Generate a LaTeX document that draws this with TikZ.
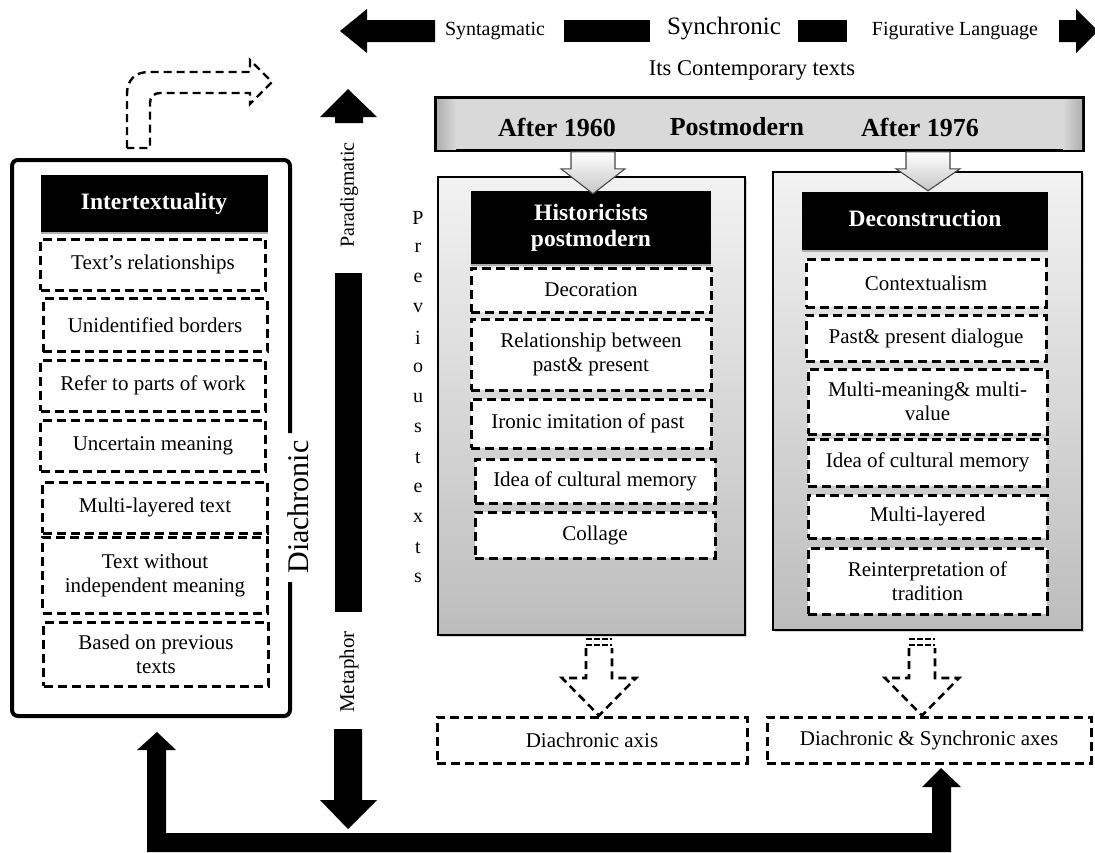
\documentclass[tikz,border=0pt]{standalone}
\usepackage{fontspec}
\setmainfont{Liberation Serif}
\usetikzlibrary{shadows,calc}
\newcommand{\bodyf}{\fontsize{21}{24}\selectfont}
\newcommand{\headf}{\fontsize{23.5}{26}\selectfont\bfseries}
\newcommand{\barf}{\fontsize{26}{30}\selectfont\bfseries}
\newcommand{\blockdown}[5]{(#1) ++(-#4,0) -- ++({2*#4},0) -- ++(0,#2) -- ++({#5-#4},0) -- ++({-#5},#3) -- ++({-#5},{-#3}) -- ++({#5-#4},0) -- cycle}
\tikzset{
  dbox/.style={draw=black, line width=3pt, dash pattern=on 9pt off 5pt, fill=white, align=center, inner sep=0pt, font=\bodyf, text=black},
  hbox/.style={fill=black, text=white, align=center, inner sep=0pt, font=\headf, drop shadow={shadow xshift=0pt, shadow yshift=-2pt, fill=gray!70, opacity=0.9}},
  panel/.style={draw=black, line width=1.4pt, top color=gray!10, bottom color=gray!52, inner sep=0pt, drop shadow={shadow xshift=2pt, shadow yshift=-2pt, opacity=0.35}},
  axislabel/.style={inner sep=0pt, text=black},
  grayarrow/.style={draw=gray!55!black, line width=1.1pt, top color=white, bottom color=gray!45},
  darrow/.style={draw=black, line width=2.6pt, dash pattern=on 8pt off 5pt, line join=miter}
}
\begin{document}
\begin{tikzpicture}[x=1pt,y=-1pt]
\useasboundingbox (0,0) rectangle (1095,852);

% ---------- top synchronic axis ----------
\node[axislabel, font=\fontsize{20}{22}\selectfont] (syn) at (495,31) {Syntagmatic};
\node[axislabel, font=\fontsize{25}{28}\selectfont] (sync) at (724,29) {Synchronic};
\node[axislabel, font=\fontsize{20}{22}\selectfont] (fig) at (955,31) {Figurative Language};
\node[axislabel, font=\fontsize{22.5}{26}\selectfont] (cont) at (752,70) {Its Contemporary texts};
\fill (340,31) -- (367,9) -- (367,20) -- (435,20) -- (435,42) -- (367,42) -- (367,53) -- cycle;
\fill (564,20) rectangle (650,42);
\fill (798,20) rectangle (847,42);
\fill (1059,20) -- (1076,20) -- (1076,9) -- (1098,31) -- (1076,53) -- (1076,42) -- (1059,42) -- cycle;

% ---------- header bar ----------
\node[draw=black, line width=1.6pt, fill=gray!30, minimum width=647pt, minimum height=52pt, inner sep=0pt,
      drop shadow={shadow xshift=2pt, shadow yshift=-2pt, opacity=0.4}] (HB) at (759.5,124) {};
\fill[left color=gray!62, right color=gray!30] (437,99) rectangle (456,149);
\fill[left color=gray!30, right color=gray!62] (1063,99) rectangle (1082,149);
\draw[line width=1.6pt] (HB.north west) rectangle (HB.south east);
\node[font=\barf] (a60) at (557,127) {After 1960};
\node[font=\barf] (pm) at (737,127) {Postmodern};
\node[font=\barf] (a76) at (920,127) {After 1976};

% ---------- left frame: Intertextuality ----------
\draw[line width=4pt, rounded corners=6pt] (290,433) -- (290,160) -- (12,160) -- (12,716) -- (290,716) -- (290,582);
\node[axislabel, rotate=90, font=\fontsize{30}{32}\selectfont] (dia) at (298,507) {Diachronic};

\node[hbox, minimum width=227pt, minimum height=57pt] (IT) at (154,203.5) {Intertextuality};
\node[dbox, minimum width=225pt, minimum height=51pt] (i1) at (153,264.5) {Text's relationships};
\node[dbox, minimum width=224pt, minimum height=53pt] (i2) at (155,325) {Unidentified borders};
\node[dbox, minimum width=225pt, minimum height=51pt] (i3) at (153,385.5) {Refer to parts of work};
\node[dbox, minimum width=225pt, minimum height=51pt] (i4) at (153,445.5) {Uncertain meaning};
\node[dbox, minimum width=225pt, minimum height=51pt] (i5) at (155,507.5) {Multi-layered text};
\node[dbox, minimum width=225pt, minimum height=76pt] (i6) at (155,575) {Text without\\independent meaning};
\node[dbox, minimum width=225pt, minimum height=64pt] (i7) at (156,654) {Based on previous\\texts};

% bent dashed arrow above the frame
\draw[line width=2.4pt, dash pattern=on 8pt off 5pt]
  (127,148) -- (127,94) .. controls (127,80) and (135,72) .. (149,72) -- (250,72) -- (250,60) -- (272,82)
  -- (250,104) -- (250,93) -- (160,93) .. controls (154,93) and (150,97) .. (150,103) -- (150,148) -- cycle;

% ---------- paradigmatic axis ----------
\fill (335,123) -- (335,117) -- (320,117) -- (348,89) -- (377,117) -- (363,117) -- (363,123) -- cycle;
\node[axislabel, rotate=90, font=\fontsize{20}{22}\selectfont] (par) at (349,195) {Paradigmatic};
\fill (335,273) rectangle (362,612);
\node[axislabel, rotate=90, font=\fontsize{21}{22}\selectfont] (met) at (349,672) {Metaphor};
\fill (334,729) -- (362,729) -- (362,800) -- (377,800) -- (348,829) -- (320,800) -- (334,800) -- cycle;

% ---------- Previous texts ----------
\foreach \ch [count=\k from 0] in {P,r,e,v,i,o,u,s,t,e,x,t,s}
  \node[axislabel, font=\fontsize{20}{22}\selectfont] (pv\k) at (418,{218+30*\k}) {\ch};

% ---------- left panel: Historicists postmodern ----------
\node[panel, minimum width=307pt, minimum height=458pt] (L) at (591.5,406) {};
\node[hbox, minimum width=240pt, minimum height=73pt] (LH) at (591,227.5) {Historicists\\postmodern};
\node[dbox, minimum width=240pt, minimum height=44pt] (l1) at (591,290) {Decoration};
\node[dbox, minimum width=240pt, minimum height=71pt] (l2) at (591,354.5) {Relationship between\\past\& present};
\node[dbox, minimum width=240pt, minimum height=49pt] (l3) at (591,423.5) {Ironic imitation of past\hspace{6pt}};
\node[dbox, minimum width=240pt, minimum height=44pt] (l4) at (595,481) {Idea of cultural memory};
\node[dbox, minimum width=240pt, minimum height=46pt] (l5) at (595,535) {Collage};

% ---------- right panel: Deconstruction ----------
\node[panel, minimum width=309pt, minimum height=458pt] (R) at (927.5,401) {};
\node[hbox, minimum width=246pt, minimum height=58pt] (RH) at (925,221) {\raisebox{5pt}{Deconstruction}};
\node[dbox, minimum width=240pt, minimum height=48pt] (r1) at (926,283) {Contextualism};
\node[dbox, minimum width=240pt, minimum height=46pt] (r2) at (926,338) {Past\& present dialogue};
\node[dbox, minimum width=239pt, minimum height=65pt] (r3) at (927.5,401.5) {Multi-meaning\& multi-\\value};
\node[dbox, minimum width=239pt, minimum height=47pt] (r4) at (927.5,462.5) {Idea of cultural memory};
\node[dbox, minimum width=239pt, minimum height=43pt] (r5) at (927.5,516.5) {Multi-layered};
\node[dbox, minimum width=239pt, minimum height=66pt] (r6) at (927.5,581) {Reinterpretation of\\tradition};

% gray arrows from header bar into the panels
\coordinate (ga1) at ($(L.north |- HB.south)+(1.5,1)$);
\coordinate (ga2) at ($(R.north |- HB.south)+(0.5,1)$);
\draw[grayarrow] \blockdown{ga1}{17}{25}{22}{32};
\draw[grayarrow] \blockdown{ga2}{17}{22}{22}{32};

% ---------- bottom boxes ----------
\node[dbox, minimum width=310pt, minimum height=46pt] (b1) at (592,740) {Diachronic axis};
\node[dbox, minimum width=324pt, minimum height=46pt] (b2) at (929,740) {Diachronic \& Synchronic axes};

% dashed block arrows from panels to bottom boxes
\coordinate (da1) at ($(L.south)+(7.5,1)$);
\coordinate (da2) at ($(R.south)+(-5.5,5)$);
\foreach \c/\t in {da1/636, da2/636}{
  \draw[darrow] ($(\c |- 0,\t)+(-13,12)$) -- ($(\c |- 0,678)+(-13,0)$) -- ($(\c |- 0,678)+(-37,0)$) -- ($(\c |- b1.north)$)
     -- ($(\c |- 0,678)+(37,0)$) -- ($(\c |- 0,678)+(13,0)$) -- ($(\c |- 0,\t)+(13,12)$);
  \draw[line width=2.8pt, dash pattern=on 6pt off 2pt] ($(\c |- 0,\t)+(-13,3)$) -- ($(\c |- 0,\t)+(13,3)$);
  \draw[line width=2.8pt, dash pattern=on 6pt off 2pt] ($(\c |- 0,\t)+(-13,9)$) -- ($(\c |- 0,\t)+(13,9)$);
}

% ---------- bottom feedback connector ----------
\fill (147,852) -- (147,750) -- (137,750) -- (157,732) -- (176,750) -- (166,750) -- (166,833)
  -- (932,833) -- (932,787) -- (922,787) -- (941,768) -- (961,787) -- (951,787) -- (951,852) -- cycle;
\end{tikzpicture}
\end{document}
